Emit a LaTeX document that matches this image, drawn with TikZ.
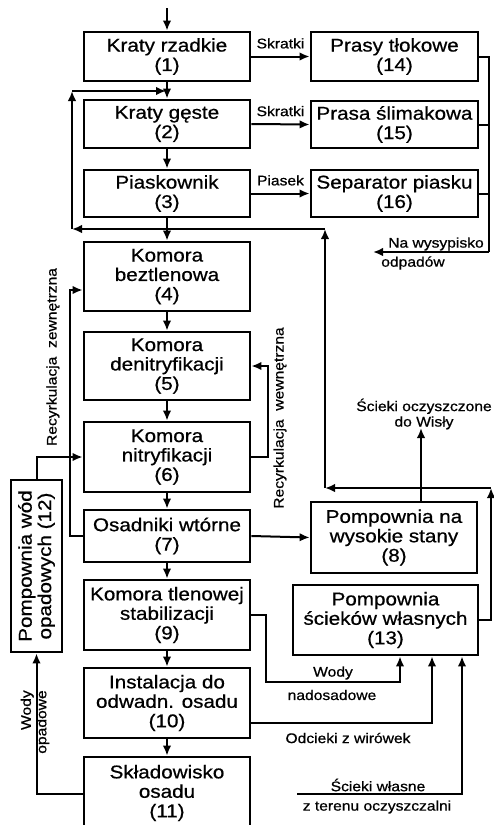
\documentclass[tikz,border=0pt]{standalone}
\usepackage{fontspec}
\setmainfont{Liberation Sans}[FakeStretch=1.12, FakeBold=0.7]
\usetikzlibrary{arrows.meta}
\newcommand{\boxfont}{\fontsize{18.5}{19.5}\selectfont}
\newcommand{\lblfont}{\fontsize{14}{15.5}\selectfont}

\begin{document}
\begin{tikzpicture}[x=1bp, y=-1bp,
    box/.style={draw, line width=2.7bp, minimum width=166bp, inner sep=0pt, align=center, font=\boxfont},
    lbl/.style={inner sep=0pt, align=center, font=\lblfont},
    ln/.style={line width=2bp},
    arr/.style={ln, -{Latex[length=10bp, width=8.5bp]}}]
\useasboundingbox (0,0) rectangle (494,825);
% glowny ciag
\node[box, minimum height=49bp] (b1) at (167,56.5) {Kraty rzadkie\\(1)};
\node[box, minimum height=48bp] (b2) at (167,124) {Kraty gęste\\(2)};
\node[box, minimum height=47bp] (b3) at (167,193.5) {Piaskownik\\(3)};
\node[box, minimum height=69bp] (b4) at (167,276.5) {Komora\\beztlenowa\\(4)};
\node[box, minimum height=68bp] (b5) at (167,366) {Komora\\denitryfikacji\\(5)};
\node[box, minimum height=70bp] (b6) at (167,457) {Komora\\nitryfikacji\\(6)};
\node[box, minimum height=52bp] (b7) at (167,536) {Osadniki wtórne\\(7)};
\node[box, minimum height=70bp] (b9) at (167,615) {Komora tlenowej\\stabilizacji\\(9)};
\node[box, minimum height=70bp] (b10) at (167,703) {Instalacja do\\odwadn. osadu\\(10)};
\node[box, minimum height=72bp] (b11) at (167,793) {Składowisko\\osadu\\(11)};
% prawa kolumna
\node[box, minimum width=167bp, minimum height=49bp] (b14) at (394.5,56.5) {Prasy tłokowe\\(14)};
\node[box, minimum width=167bp, minimum height=47bp] (b15) at (394.5,124.5) {Prasa ślimakowa\\(15)};
\node[box, minimum width=167bp, minimum height=47bp] (b16) at (394.5,193.5) {Separator piasku\\(16)};
\node[box, minimum width=166bp, minimum height=71bp] (b8) at (394,537.5) {Pompownia na\\wysokie stany\\(8)};
\node[box, minimum width=185bp, minimum height=70bp] (b13) at (385.5,620) {Pompownia\\ścieków własnych\\(13)};
\node[box, rotate=90, minimum width=172bp, minimum height=51bp] (b12) at (36.5,566) {Pompownia wód\\opadowych (12)};

% przeplyw glowny
\coordinate (in) at (167,8);
\draw[arr] (in) -- (b1);
\draw[arr] (b1) -- (b2);
\draw[arr] (b2) -- (b3);
\draw[arr] (b3) -- (b4);
\draw[arr] (b4) -- (b5);
\draw[arr] (b5) -- (b6);
\draw[arr] (b6) -- (b7);
\draw[arr] (b7) -- (b9);
\draw[arr] (b9) -- (b10);
\draw[arr] (b10) -- (b11.north);
\draw[arr] (b7.east) -- (b8.west);

% skratki i piasek
\draw[arr] (b1.east) -- node[lbl, above=7bp] {Skratki} (b14.west);
\draw[arr] (b2.east) -- node[lbl, above=7bp] {Skratki} (b15.west);
\draw[arr] (b3.east) -- node[lbl, above=7bp] {Piasek} (b16.west);
\coordinate (rt) at (489,252);
\coordinate (waste) at (373,252);
\draw[ln] (b14.east) -| (rt);
\draw[ln] (b15.east) -- (b15.east -| rt);
\draw[ln] (b16.east) -- (b16.east -| rt);
\draw[arr] (rt) -- (waste);
\node[lbl] (wys) at (436,244) {Na wysypisko};
\node[lbl] (odp) at (413,263) {odpadów};

% powrot sciekow wlasnych
\coordinate (r1) at (491,488);
\coordinate (r2) at (325,488);
\coordinate (r3) at (325,229);
\coordinate (r4) at (72,229);
\coordinate (r5) at (72,91);
\coordinate (r6) at (166,91);
\draw[arr] (b13.east) -| (r1);
\draw[arr] (r1) -- (r2);
\draw[arr] (r2) -- (r3);
\draw[arr] (r3) -- (r4);
\draw[arr] (r4) -- (r5);
\draw[arr] (r5) -- (r6);

% odplyw do rzeki
\coordinate (river) at (421,428);
\draw[arr] (b8.north -| river) -- (river);
\node[lbl] (wisla) at (424,414) {Ścieki oczyszczone\\do Wisły};

% recyrkulacje
\coordinate (rz) at (70,290);
\draw[arr] (b7.west) -| (rz) -- (rz -| b4.west);
\draw[arr] (b12.east) |- (b6.west);
\node[lbl, rotate=90] (rzl) at (53,357) {Recyrkulacja\ \ zewnętrzna};
\draw[arr] (b6.east) -- ++(17,0) |- (b5.east);
\node[lbl, rotate=90] (rwl) at (280,418) {Recyrkulacja\ \ wewnętrzna};

% dopływy do pompowni (13)
\coordinate (wn) at (400,682);
\draw[arr] (b9.east) -- ++(15,0) |- (wn) -- (wn |- b13.south);
\node[lbl] (wody) at (333,673) {Wody};
\node[lbl] (nad) at (332,695) {nadosadowe};
\coordinate (ow) at (432,723);
\draw[arr] (b10.east |- ow) -- (ow) -- (ow |- b13.south);
\node[lbl] (odc) at (348,738) {Odcieki z wirówek};
\coordinate (sw0) at (297,794);
\coordinate (sw) at (462,794);
\draw[arr] (sw0) -- (sw) -- (sw |- b13.south);
\node[lbl] (swl) at (378,785) {Ścieki własne};
\node[lbl] (ter) at (377,807) {z terenu oczyszczalni};

% wody opadowe
\draw[arr] (b11.west |- sw0) -| (b12.west);
\node[lbl, rotate=90, align=right] (opad) at (35,722) {Wody\\opadowe};
\end{tikzpicture}
\end{document}
